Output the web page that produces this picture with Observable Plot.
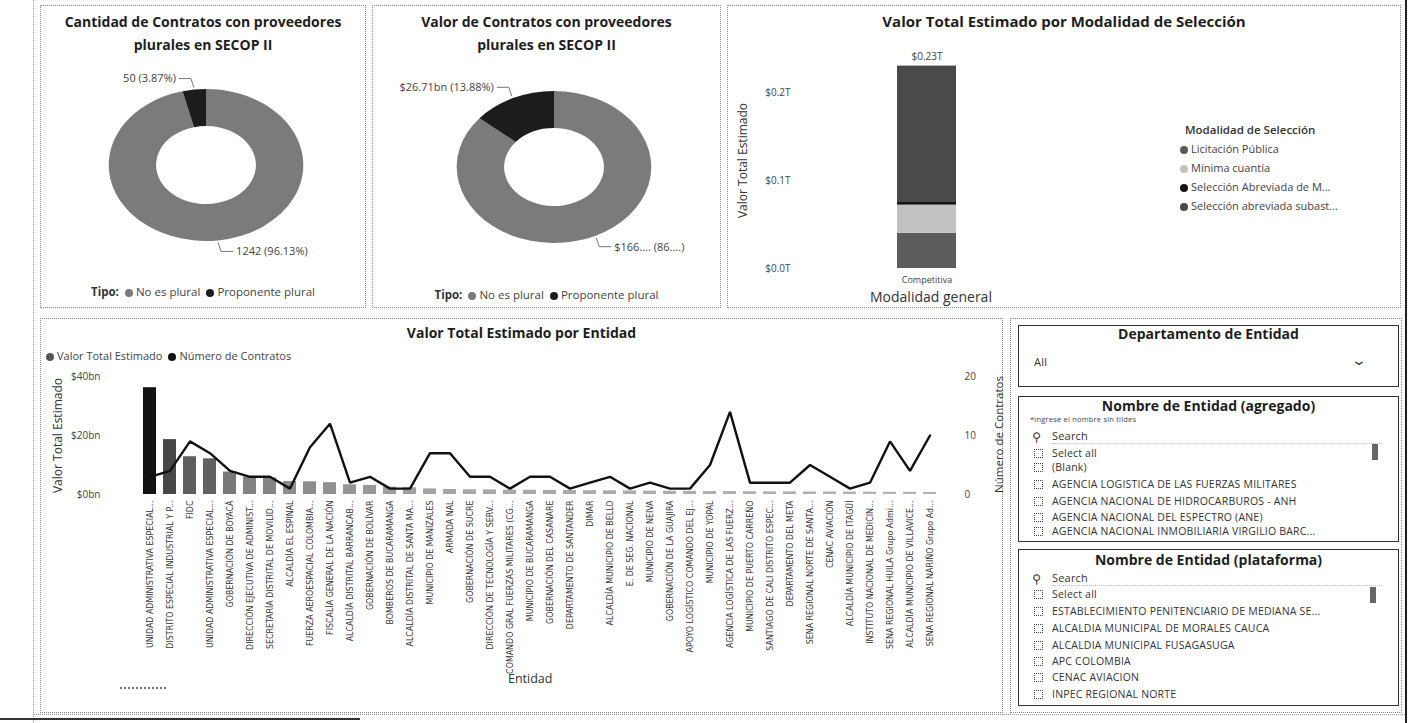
<!DOCTYPE html>
<html>
<head>
<meta charset="utf-8">
<script src="https://cdn.jsdelivr.net/npm/d3@7"></script>
<script src="https://cdn.jsdelivr.net/npm/@observablehq/plot@0.6"></script>
<style>
  html, body { margin: 0; padding: 0; background: #fff; }
  body { width: 1408px; height: 723px; position: relative; overflow: hidden; font-family: "Open Sans", "DejaVu Sans", sans-serif; color: #2a2a2a; }
  .panel { position: absolute; border: 1px dotted #8a8a8a; box-sizing: border-box; }
  .abs { position: absolute; white-space: nowrap; }
  .title { position: absolute; font-weight: 700; text-align: center; color: #1e1e1e; font-size: 14px; line-height: 23px; }
  .legend { position: absolute; font-size: 11px; color: #444; white-space: nowrap; }
  .legend b { font-weight: 700; color: #333; }
  .dot { display: inline-block; width: 8px; height: 8px; border-radius: 50%; margin: 0 3px 0 6px; vertical-align: -0.5px; }
  .vtitle { position: absolute; transform: rotate(-90deg); transform-origin: center center; white-space: nowrap; font-size: 12px; color: #333; }
  .slicer { position: absolute; border: 1.5px solid #333; box-sizing: border-box; background: #fff; }
  .item { position: absolute; font-size: 10.5px; color: #333; white-space: nowrap; letter-spacing: 0.2px; }
  .chk { position: absolute; width: 9px; height: 9px; border: 1px dotted #444; box-sizing: border-box; }
  .plotbox { position: absolute; }
</style>
</head>
<body>
<script>
// ---------------- DATA ----------------
const tipos = ["No es plural", "Proponente plural"];
const cantidadContratos = [1242, 50];
const cantidadEtiquetas = ["1242 (96.13%)", "50 (3.87%)"];
const valorContratosBn = [165.69, 26.71];
const valorEtiquetas = ["$166.... (86....)", "$26.71bn (13.88%)"];

const modalidades = ["Licitación Pública", "Mínima cuantía", "Selección Abreviada de Menor Cuantía", "Selección abreviada subasta inversa"];
const modalidadEtiquetas = ["Licitación Pública", "Mínima cuantía", "Selección Abreviada de M...", "Selección abreviada subast..."];
const modalidadValoresT = [0.040, 0.032, 0.003, 0.155];
const modalidadGeneral = ["Competitiva", "Competitiva", "Competitiva", "Competitiva"];
const modalidadTicks = [0, 0.1, 0.2];

const entidades = [
  "UNIDAD ADMINISTRATIVA ESPECIAL...",
  "DISTRITO ESPECIAL INDUSTRIAL Y P...",
  "FIDC",
  "UNIDAD ADMINISTRATIVA ESPECIAL...",
  "GOBERNACIÓN DE BOYACÁ",
  "DIRECCIÓN EJECUTIVA DE ADMINIST...",
  "SECRETARÍA DISTRITAL DE MOVILID...",
  "ALCALDÍA EL ESPINAL",
  "FUERZA AEROESPACIAL COLOMBIA...",
  "FISCALÍA GENERAL DE LA NACIÓN",
  "ALCALDÍA DISTRITAL BARRANCAB...",
  "GOBERNACIÓN DE BOLÍVAR",
  "BOMBEROS DE BUCARAMANGA",
  "ALCALDÍA DISTRITAL DE SANTA MA...",
  "MUNICIPIO DE MANIZALES",
  "ARMADA NAL",
  "GOBERNACIÓN DE SUCRE",
  "DIRECCIÓN DE TECNOLOGÍA Y SERV...",
  "COMANDO GRAL FUERZAS MILITARES (CG...",
  "MUNICIPIO DE BUCARAMANGA",
  "GOBERNACIÓN DEL CASANARE",
  "DEPARTAMENTO DE SANTANDER",
  "DIMAR",
  "ALCALDÍA MUNICIPIO DE BELLO",
  "E. DE SEG. NACIONAL",
  "MUNICIPIO DE NEIVA",
  "GOBERNACIÓN DE LA GUAJIRA",
  "APOYO LOGÍSTICO COMANDO DEL EJ...",
  "MUNICIPIO DE YOPAL",
  "AGENCIA LOGÍSTICA DE LAS FUERZ...",
  "MUNICIPIO DE PUERTO CARREÑO",
  "SANTIAGO DE CALI DISTRITO ESPEC...",
  "DEPARTAMENTO DEL META",
  "SENA REGIONAL NORTE DE SANTA...",
  "CENAC AVIACIÓN",
  "ALCALDÍA MUNICIPIO DE ITAGÜÍ",
  "INSTITUTO NACIONAL DE MEDICIN...",
  "SENA REGIONAL HUILA Grupo Admi...",
  "ALCALDÍA MUNICIPIO DE VILLAVICE...",
  "SENA REGIONAL NARIÑO Grupo Ad..."
];
const valorEntidadBn = [36.2, 18.6, 12.8, 12.1, 7.6, 5.9, 5.6, 4.4, 4.3, 4.0,
  3.3, 3.1, 2.5, 2.3, 1.9, 1.7, 1.6, 1.55, 1.5, 1.45,
  1.4, 1.35, 1.3, 1.25, 1.2, 1.15, 1.1, 1.05, 1.0, 1.0,
  0.95, 0.9, 0.9, 0.85, 0.85, 0.8, 0.8, 0.75, 0.75, 0.7];
const contratosEntidad = [3, 4, 9, 7, 4, 3, 3, 1, 8, 12,
  2, 3, 1, 1, 7, 7, 3, 3, 1, 3,
  3, 1, 2, 3, 1, 2, 1, 1, 5, 14,
  2, 2, 2, 5, 3, 1, 2, 9, 4, 10];
const valorTicksBn = [0, 20, 40];

const slicerAgregado = ["Select all", "(Blank)", "AGENCIA LOGISTICA DE LAS FUERZAS MILITARES", "AGENCIA NACIONAL DE HIDROCARBUROS - ANH", "AGENCIA NACIONAL DEL ESPECTRO (ANE)", "AGENCIA NACIONAL INMOBILIARIA VIRGILIO BARC..."];
const slicerPlataforma = ["Select all", "ESTABLECIMIENTO PENITENCIARIO DE MEDIANA SE...", "ALCALDIA MUNICIPAL DE MORALES CAUCA", "ALCALDIA MUNICIPAL FUSAGASUGA", "APC COLOMBIA", "CENAC AVIACION", "INPEC REGIONAL NORTE"];

// ---------------- STYLE ----------------
const tipoRange = ["#7b7b7b", "#1c1c1c"];
const modalidadRange = ["#5c5c5c", "#c2c2c2", "#151515", "#4a4a4a"];
const FONT = "'Open Sans', 'DejaVu Sans', sans-serif";

// ---------------- HELPERS ----------------
function el(tag, cls, style, html) {
  const e = document.createElement(tag);
  if (cls) e.className = cls;
  if (style) e.setAttribute("style", style);
  if (html != null) e.innerHTML = html;
  document.body.appendChild(e);
  return e;
}
function place(node, left, top) {
  const w = el("div", "plotbox", `left:${left}px;top:${top}px`);
  w.appendChild(node);
  return w;
}

// panels and scan edges
el("div", "panel", "left:40px;top:5px;width:326px;height:303px");
el("div", "panel", "left:372px;top:5px;width:349px;height:303px");
el("div", "panel", "left:727px;top:5px;width:674px;height:303px");
el("div", "panel", "left:40px;top:318px;width:963px;height:395px");
el("div", "panel", "left:1010px;top:318px;width:392px;height:395px");
el("div", "", "position:absolute;left:33px;top:0;width:0;height:723px;border-left:1px dotted #999");
el("div", "", "position:absolute;left:33px;top:714px;width:1372px;height:0;border-top:1px dotted #999");
el("div", "", "position:absolute;left:1405px;top:0;width:2px;height:723px;background:#222");
el("div", "", "position:absolute;left:0;top:718px;width:360px;height:2px;background:#333");

// ---------------- DONUTS ----------------
const tipoColor = Plot.scale({color: {type: "ordinal", domain: tipos, range: tipoRange}});

function donutMark(values, labels, {sx = 1.28, ro = 76, ri = 39, cx, cy}) {
  return (index, scales, channels, dims) => {
    const data = tipos.map((t, i) => ({tipo: t, v: values[i], label: labels[i]}));
    const arcs = d3.pie().sort(null).value(d => d.v)(data);
    const g = d3.create("svg:g");
    const ring = g.append("g").attr("transform", `translate(${cx},${cy}) scale(${sx},1)`);
    ring.selectAll("path").data(arcs).join("path")
      .attr("d", d3.arc().innerRadius(ri).outerRadius(ro))
      .attr("fill", d => tipoColor.apply(d.data.tipo));
    for (const a of arcs) {
      const m = (a.startAngle + a.endAngle) / 2;
      const side = Math.sin(m) >= 0 ? 1 : -1;
      const vert = Math.cos(m) >= 0 ? -1 : 1;
      const x0 = cx + sx * (ro + 2) * Math.sin(m), y0 = cy - (ro + 2) * Math.cos(m);
      const x1 = x0 + side * 3, y1 = y0 + vert * 9;
      const x2 = x1 + side * 12;
      g.append("path").attr("d", `M${x0},${y0}L${x1},${y1}L${x2},${y1}`)
        .attr("fill", "none").attr("stroke", "#777").attr("stroke-width", 1);
      g.append("text").attr("x", x2 + side * 3).attr("y", y1).attr("dy", "0.35em")
        .attr("text-anchor", side > 0 ? "start" : "end")
        .attr("fill", "#444").attr("font-size", 11).text(a.data.label);
    }
    return g.node();
  };
}

const donut1 = Plot.plot({
  width: 324, height: 220, margin: 0, style: {fontFamily: FONT, background: "transparent"},
  marks: [donutMark(cantidadContratos, cantidadEtiquetas, {cx: 165, cy: 110})]
});
place(donut1, 41, 55);
const donut2 = Plot.plot({
  width: 346, height: 220, margin: 0, style: {fontFamily: FONT, background: "transparent"},
  marks: [donutMark(valorContratosBn, valorEtiquetas, {cx: 181, cy: 112})]
});
place(donut2, 373, 55);

el("div", "title", "left:40px;top:10px;width:326px", "Cantidad de Contratos con proveedores<br>plurales en SECOP II");
el("div", "title", "left:372px;top:10px;width:349px", "Valor de Contratos con proveedores<br>plurales en SECOP II");

function tipoLegend(left, top, width) {
  const html = `<b>Tipo:</b>` + tipos.map(t => `<span class="dot" style="background:${tipoColor.apply(t)}"></span>${t}`).join("");
  el("div", "legend", `left:${left}px;top:${top}px;width:${width}px;text-align:center;font-size:11.5px`, html);
}
tipoLegend(40, 284, 326);
tipoLegend(372, 287, 349);

// ---------------- STACKED BAR (Modalidad) ----------------
const modData = modalidades.map((m, i) => ({modalidad: m, general: modalidadGeneral[i], valor: modalidadValoresT[i]}));
const totalT = d3.sum(modalidadValoresT);
const stacked = Plot.plot({
  width: 440, height: 250,
  marginTop: 8, marginBottom: 22, marginLeft: 73, marginRight: 113,
  style: {fontFamily: FONT, fontSize: "10px", color: "#444", background: "transparent"},
  x: {type: "band", padding: 0.62, label: null},
  y: {domain: [0, 0.25], label: null},
  color: {type: "ordinal", domain: modalidades, range: modalidadRange},
  marks: [
    Plot.barY(modData, {x: "general", y: "valor", fill: "modalidad"}),
    Plot.text([{general: modalidadGeneral[0], total: totalT}], {x: "general", y: "total", text: d => `$${d.total.toFixed(2)}T`, dy: -9, fontSize: 10, fill: "#444"}),
    Plot.axisX({tickSize: 0, tickPadding: 8, fontSize: 9, label: null}),
    Plot.axisY(modalidadTicks, {tickSize: 0, tickPadding: 10, tickFormat: d => `$${d.toFixed(1)}T`, label: null, fontSize: 10})
  ]
});
place(stacked, 727, 40);
el("div", "title", "left:727px;top:10px;width:674px;font-size:15px", "Valor Total Estimado por Modalidad de Selección");
el("div", "vtitle", "left:680px;top:152px;width:124px;text-align:center;font-size:12px", "Valor Total Estimado");
el("div", "abs", "left:870px;top:287px;font-size:14px;color:#333", "Modalidad general");
el("div", "abs", "left:1185px;top:122px;font-size:11.5px;font-weight:600;color:#333", "Modalidad de Selección");
modalidades.forEach((m, i) => {
  el("div", "legend", `left:1180px;top:${141 + i * 19}px;font-size:11px`,
    `<span class="dot" style="background:${modalidadRange[i]};margin-left:0"></span>${modalidadEtiquetas[i]}`);
});

// ---------------- COMBO (Entidad) ----------------
const filas = entidades.map((e, i) => ({i, entidad: e, valor: valorEntidadBn[i], contratos: contratosEntidad[i]}));
const y2 = d3.scaleLinear([0, 20], [0, 40]);
const combo = Plot.plot({
  width: 960, height: 320,
  marginTop: 14, marginBottom: 188, marginLeft: 84, marginRight: 46,
  style: {fontFamily: FONT, fontSize: "10px", color: "#444", background: "transparent"},
  x: {type: "band", domain: d3.range(entidades.length), padding: 0.35, label: null},
  y: {domain: [0, 40], label: null},
  color: {type: "sqrt", domain: [d3.min(valorEntidadBn), d3.max(valorEntidadBn)], range: ["#b4b4b4", "#121212"]},
  marks: [
    Plot.barY(filas, {x: "i", y: "valor", fill: "valor"}),
    Plot.line(filas, {x: "i", y: d => y2(d.contratos), stroke: "#111", strokeWidth: 2.4, strokeLinejoin: "miter"}),
    Plot.axisX({tickFormat: i => entidades[i], tickRotate: -90, tickSize: 0, tickPadding: 6, fontSize: 8.8, label: null,
      fontFamily: "'DejaVu Sans Condensed', 'Liberation Sans Narrow', sans-serif", fill: "#333"}),
    Plot.axisY(valorTicksBn, {tickSize: 0, tickPadding: 24, tickFormat: d => `$${d}bn`, label: null, fontSize: 10}),
    Plot.axisY(y2.ticks(2), {anchor: "right", y: y2, tickSize: 0, tickPadding: 10, tickFormat: y2.tickFormat(), label: null, fontSize: 10})
  ]
});
place(combo, 40, 362);
el("div", "title", "left:40px;top:321px;width:963px", "Valor Total Estimado por Entidad");
el("div", "legend", "left:40px;top:348px;font-size:11px",
  `<span class="dot" style="background:#555"></span>Valor Total Estimado<span class="dot" style="background:#111"></span>Número de Contratos`);
el("div", "vtitle", "left:-6px;top:427px;width:126px;text-align:center;font-size:12px", "Valor Total Estimado");
el("div", "vtitle", "left:935px;top:427px;width:126px;text-align:center;font-size:11.5px", "Número de Contratos");
el("div", "abs", "left:508px;top:670px;font-size:12.5px;color:#333", "Entidad");
el("div", "", "position:absolute;left:120px;top:687px;width:46px;height:3px;border-top:2px dotted #777");

// ---------------- SLICERS ----------------
el("div", "slicer", "left:1018px;top:325px;width:381px;height:62px");
el("div", "title", "left:1018px;top:322px;width:381px", "Departamento de Entidad");
el("div", "item", "left:1034px;top:354px;font-size:11px", "All");
el("div", "abs", "left:1353px;top:350px;font-size:14px;color:#444;transform:scaleX(1.4)", "&#8964;");

el("div", "slicer", "left:1018px;top:396px;width:381px;height:146px");
el("div", "title", "left:1018px;top:394px;width:381px", "Nombre de Entidad (agregado)");
el("div", "item", "left:1030px;top:414px;font-size:7.5px;color:#444", "*ingrese el nombre sin tildes");
function searchRow(top) {
  el("div", "item", `left:1032px;top:${top}px;font-size:12px;transform:scaleX(-1)`, "&#9906;");
  el("div", "item", `left:1052px;top:${top}px;font-size:11px`, "Search");
  el("div", "", `position:absolute;left:1052px;top:${top + 15}px;width:330px;border-top:1px dotted #bbb`);
}
searchRow(428);
slicerAgregado.forEach((t, i) => {
  const y = [446, 460, 477, 494, 510, 524][i];
  el("div", "chk", `left:1034px;top:${y + 3}px`);
  el("div", "item", `left:1052px;top:${y}px`, t);
});
el("div", "", "position:absolute;left:1372px;top:444px;width:6px;height:16px;background:#666");

el("div", "slicer", "left:1018px;top:549px;width:381px;height:157px");
el("div", "title", "left:1018px;top:548px;width:381px", "Nombre de Entidad (plataforma)");
searchRow(570);
slicerPlataforma.forEach((t, i) => {
  const y = [587, 604, 621, 638, 654, 670, 687][i];
  el("div", "chk", `left:1034px;top:${y + 3}px`);
  el("div", "item", `left:1052px;top:${y}px`, t);
});
el("div", "", "position:absolute;left:1370px;top:587px;width:6px;height:16px;background:#666");
</script>
</body>
</html>
